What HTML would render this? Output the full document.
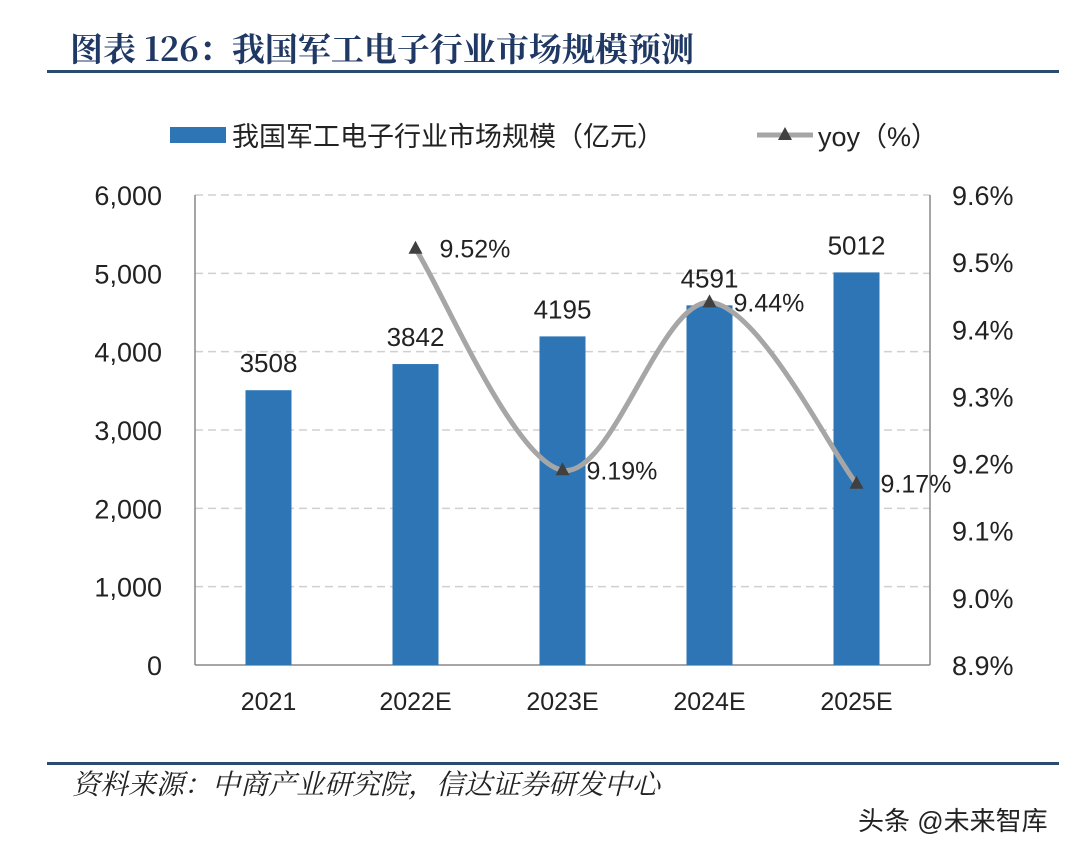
<!DOCTYPE html>
<html><head><meta charset="utf-8"><style>
body{margin:0;background:#fff;width:1080px;height:856px;overflow:hidden;font-family:"Liberation Sans","Noto Sans CJK SC",sans-serif;}
</style></head><body>
<svg width="1080" height="856" style="position:absolute;left:0;top:0">
<text x="70" y="61" font-size="33" font-weight="bold" fill="#1f3864" font-family="'Noto Serif CJK SC','Noto Sans CJK SC',sans-serif">图表 126：我国军工电子行业市场规模预测</text>
<rect x="47" y="70" width="1012" height="3" fill="#2b4c6f"/>
<g>
<rect x="170" y="127" width="56" height="16" fill="#2e75b6"/>
<text x="232" y="146" font-size="27" fill="#222">我国军工电子行业市场规模（亿元）</text>
<line x1="757" y1="135" x2="813" y2="135" stroke="#a6a6a6" stroke-width="5"/>
<polygon points="785,127 778,140 792,140" fill="#404040"/>
<text x="818" y="146" font-size="27" fill="#222">yoy（%）</text>
</g>
<g id="grid"></g><g id="bars"></g><g id="line"></g><g id="labels"></g>
<rect x="47" y="762" width="1012" height="3" fill="#2b4c6f"/>
<text x="72" y="794" font-size="28" font-style="italic" fill="#222" font-family="'Noto Serif CJK SC',serif">资料来源：中商产业研究院，信达证券研发中心</text>
<text x="858" y="830" font-size="26" fill="#222">头条 @未来智库</text>
</svg>
<script>
const categories=["2021","2022E","2023E","2024E","2025E"];
const marketSize=[3508,3842,4195,4591,5012];
const yoy=[null,9.52,9.19,9.44,9.17];
const leftTicks=[0,1000,2000,3000,4000,5000,6000];
const rightTicks=[8.9,9.0,9.1,9.2,9.3,9.4,9.5,9.6];
const NS="http://www.w3.org/2000/svg";
const x0=195,x1=930,yTop=195,yBot=665;
const yL=v=>yBot-(v/6000)*(yBot-yTop);
const yR=v=>yBot-((v-8.9)/0.7)*(yBot-yTop);
const step=(x1-x0)/categories.length;
const xC=i=>x0+step*(i+0.5);
function mk(tag,attrs,parent,text){const e=document.createElementNS(NS,tag);for(const k in attrs)e.setAttribute(k,attrs[k]);if(text!=null)e.textContent=text;document.getElementById(parent).appendChild(e);return e;}
leftTicks.forEach((t,i)=>{
 if(t>0){const g=mk('line',{x1:x0,x2:x1,y1:yL(t),y2:yL(t),stroke:'#d0d0d0','stroke-width':1.5,'stroke-dasharray':'8,5'},'grid');
 
 }
 const l=mk('text',{x:x0-33,y:yL(t)+10,'font-size':27,'text-anchor':'end',fill:'#222'},'labels',t.toLocaleString('en-US'));
 
 
});
rightTicks.forEach(t=>{
 const l=mk('text',{x:x1+22,y:yR(t)+10,'font-size':27,fill:'#222'},'labels',t.toFixed(1)+'%');
 
 
});
[['left',x0],['right',x1]].forEach(([n,x])=>{const a=mk('line',{x1:x,x2:x,y1:yTop,y2:yBot,stroke:'#888','stroke-width':1.5},'grid');

});
const xa=mk('line',{x1:x0,x2:x1,y1:yBot,y2:yBot,stroke:'#888','stroke-width':1.5},'grid');


categories.forEach((c,i)=>{
 const b=mk('rect',{x:xC(i)-23,y:yL(marketSize[i]),width:46,height:yBot-yL(marketSize[i]),fill:'#2e75b6'},'bars');
 
 
 const v=mk('text',{x:xC(i),y:yL(marketSize[i])-18,'font-size':26,'text-anchor':'middle',fill:'#222'},'labels',marketSize[i]);
 
 
 const xl=mk('text',{x:xC(i),y:710,'font-size':25,'text-anchor':'middle',fill:'#222'},'labels',c);
 
 
});
const pts=[];yoy.forEach((v,i)=>{if(v!=null)pts.push([xC(i),yR(v),v]);});
let d='M'+pts[0][0]+','+pts[0][1];
for(let i=0;i<pts.length-1;i++){const p0=pts[Math.max(0,i-1)],p1=pts[i],p2=pts[i+1],p3=pts[Math.min(pts.length-1,i+2)];
 d+=` C${p1[0]+(p2[0]-p0[0])/6},${p1[1]+(p2[1]-p0[1])/6} ${p2[0]-(p3[0]-p1[0])/6},${p2[1]-(p3[1]-p1[1])/6} ${p2[0]},${p2[1]}`;}
const path=mk('path',{d:d,fill:'none',stroke:'#a6a6a6','stroke-width':5},'line');


pts.forEach(p=>{
 const m=mk('polygon',{points:`${p[0]},${p[1]-8} ${p[0]-7},${p[1]+5} ${p[0]+7},${p[1]+5}`,fill:'#404040'},'line');
 
 
 const t=mk('text',{x:p[0]+24,y:p[1]+9,'font-size':25,fill:'#222'},'labels',p[2].toFixed(2)+'%');
 
 
});
</script>
</body></html>
